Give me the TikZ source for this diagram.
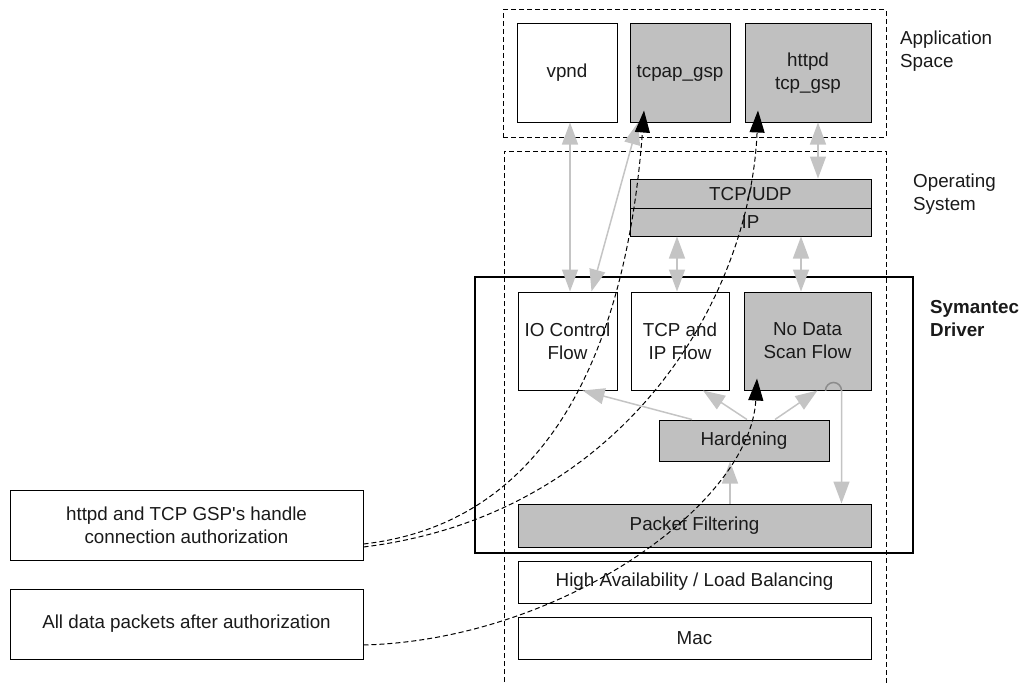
\documentclass[tikz,border=0pt]{standalone}
\usepackage{fontspec}
\setmainfont{Liberation Sans}
\usetikzlibrary{arrows.meta}
\definecolor{boxgray}{HTML}{C0C0C0}
\definecolor{arrgray}{HTML}{C4C4C4}
\definecolor{hopgray}{HTML}{8C8C8C}
\definecolor{txt}{HTML}{1A1A1A}
\begin{document}
\begin{tikzpicture}[x=1pt,y=-1pt,
  every node/.style={font=\fontsize{18.8}{23}\selectfont, inner sep=0pt, text=txt},
  box/.style={draw, line width=1pt, align=center},
  gbox/.style={box, fill=boxgray},
  dbox/.style={draw, dash pattern=on 5pt off 3pt, line width=1pt},
  garrow/.style={draw=arrgray, line width=1.5pt, {Triangle[length=22pt,width=16pt]}-{Triangle[length=22pt,width=16pt]}},
  garrowone/.style={draw=arrgray, line width=1.5pt, -{Triangle[length=22pt,width=16pt]}},
  darrow/.style={draw=black, line width=1pt, dash pattern=on 5pt off 3pt, -{Triangle[length=22pt,width=15pt]}}
]
\useasboundingbox (0,0) rectangle (1021,685);

% containers
\node[dbox, minimum width=383pt, minimum height=127pt] (appspace) at (694.5,73.5) {};
\draw[dbox] (504,690) -- (504,151) -- (886,151) -- (886,690);
\node[draw, line width=2.5pt, minimum width=438pt, minimum height=276pt] (symdrv) at (694,415) {};

% application space
\node[box, minimum width=100pt, minimum height=98pt] (vpnd) at (567,73) {vpnd};
\node[gbox, minimum width=100pt, minimum height=98pt] (tcpap) at (680,73) {tcpap\_gsp};
\node[gbox, minimum width=126pt, minimum height=98pt] (httpd) at (808,73) {httpd\\tcp\_gsp};

% operating system
\node[gbox, minimum width=241pt, minimum height=29pt] (tcpudp) at (750.5,193.5) {TCP/UDP};
\node[gbox, minimum width=241pt, minimum height=28pt] (ip) at (750.5,222) {IP};

% driver
\node[box, minimum width=99pt, minimum height=98pt] (io) at (567.5,341) {IO Control\\Flow};
\node[box, minimum width=98pt, minimum height=98pt] (tcpip) at (680,341) {TCP and\\IP Flow};
\node[gbox, minimum width=127pt, minimum height=98pt] (ndsf) at (807.5,341) {No Data\\Scan Flow};
\node[gbox, minimum width=170pt, minimum height=41pt] (hard) at (744,440.5) {Hardening};
\node[gbox, minimum width=353pt, minimum height=43pt] (pf) at (694.5,525.5) {Packet Filtering};
\node[box, minimum width=353pt, minimum height=42pt] (ha) at (694.5,582) {High Availability / Load Balancing};
\node[box, minimum width=353pt, minimum height=42pt] (mac) at (694.5,638) {Mac};

% left notes
\node[box, minimum width=353pt, minimum height=70pt] (note1) at (186.5,525) {httpd and TCP GSP\textquotesingle s handle\\connection authorization};
\node[box, minimum width=353pt, minimum height=70pt] (note2) at (186.5,624) {All data packets after authorization};

% labels
\node[anchor=west, align=left] (lblapp) at (900,51) {Application\\Space};
\node[anchor=west, align=left] (lblos) at (913,194) {Operating\\System};
\node[anchor=west, align=left, font=\fontsize{18.8}{23}\selectfont\bfseries] (lblsym) at (930,319) {Symantec\\Driver};

% gray connectors
\draw[garrow] ([xshift=3pt]vpnd.south) -- ([xshift=3pt]vpnd.south |- io.north);
\draw[garrow] ([xshift=-42pt]tcpap.south) -- ([xshift=24pt]io.north);
\draw[garrow] ([xshift=10pt]httpd.south) -- ([xshift=10pt]httpd.south |- tcpudp.north);
\draw[garrow] ([xshift=-3pt]tcpip.north |- ip.south) -- ([xshift=-3pt]tcpip.north);
\draw[garrow] ([xshift=-6.5pt]ndsf.north |- ip.south) -- ([xshift=-6.5pt]ndsf.north);
\draw[garrowone] ([xshift=-52pt]hard.north) -- ([xshift=15pt]io.south);
\draw[garrowone] ([xshift=3pt]hard.north) -- ([xshift=23pt]tcpip.south);
\draw[garrowone] ([xshift=31pt]hard.north) -- ([xshift=10pt]ndsf.south);
\draw[garrowone] ([xshift=18pt]ndsf.south) arc[start angle=180, end angle=0, radius=8pt] -- ([xshift=147pt]pf.north);
\draw[draw=hopgray, line width=1.5pt] ([xshift=18pt]ndsf.south) arc[start angle=180, end angle=0, radius=8pt];
\draw[garrowone] ([xshift=35.5pt]pf.north) -- ([xshift=35.5pt]pf.north |- hard.south);

% dashed black connectors
\draw[darrow] ([yshift=-19pt]note1.east) .. controls (575,520) and (630,300) .. ([xshift=-36pt,yshift=12pt]tcpap.south);
\draw[darrow] ([yshift=-22pt]note1.east) .. controls (623,515) and (750,300) .. ([xshift=-50pt,yshift=12pt]httpd.south);
\draw[darrow] ([yshift=-21pt]note2.east) .. controls (560,640) and (750,505) .. ([xshift=-50.5pt,yshift=12pt]ndsf.south);
\end{tikzpicture}
\end{document}
